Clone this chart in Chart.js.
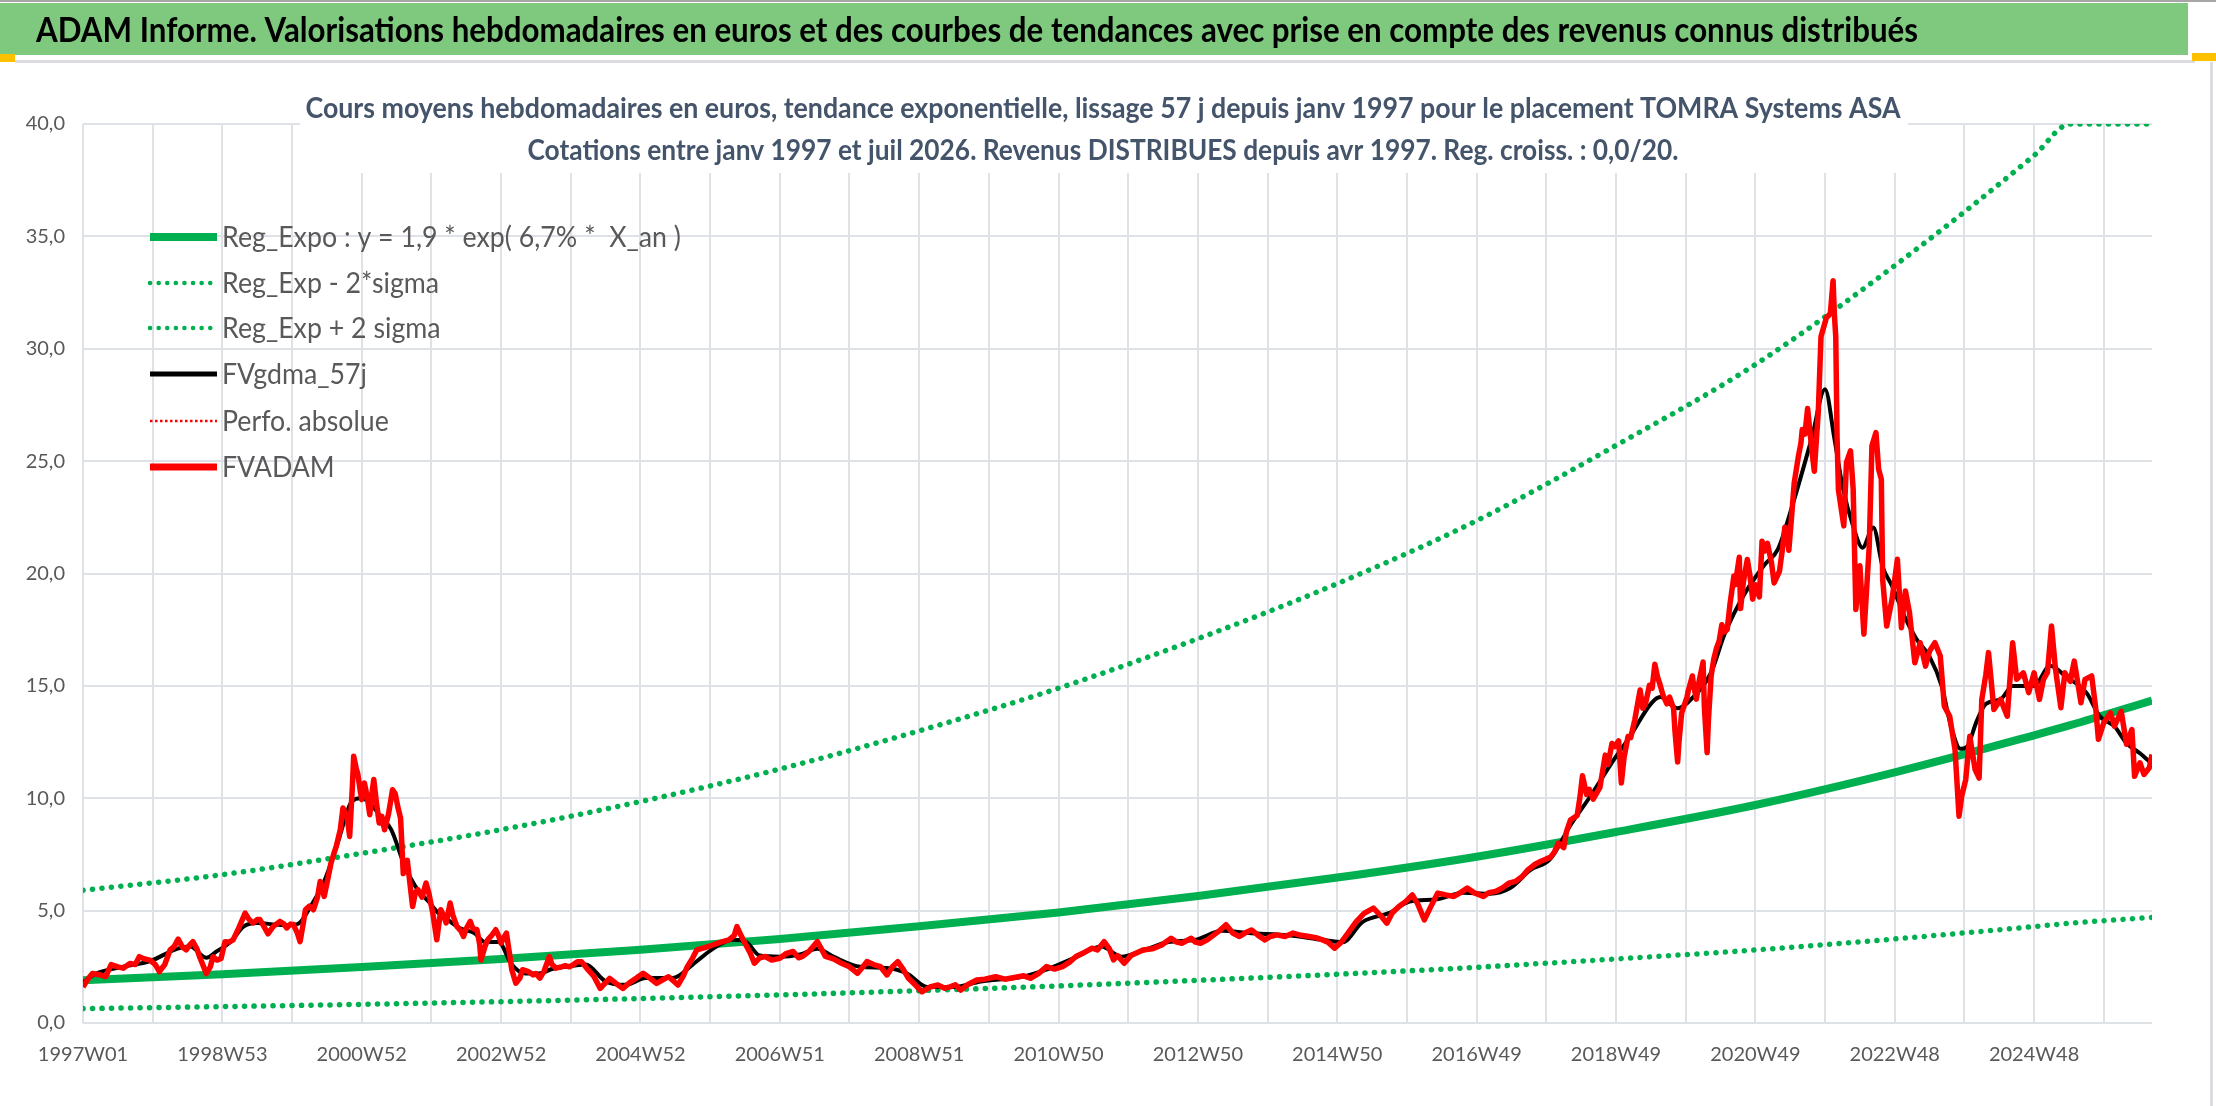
<!DOCTYPE html>
<html>
<head>
<meta charset="utf-8">
<script src="https://cdn.jsdelivr.net/npm/chart.js@4.4.1/dist/chart.umd.min.js"></script>
<style>
  html, body { margin: 0; padding: 0; background: #fff; }
  canvas { display: block; }
</style>
</head>
<body>
<canvas id="myChart" width="2216" height="1106"></canvas>
<script>
// Données (semaines depuis 1997W01)

const tickLabels = ['1997W01', '1998W53', '2000W52', '2002W52', '2004W52', '2006W51', '2008W51',
  '2010W50', '2012W50', '2014W50', '2016W49', '2018W49', '2020W49', '2022W48', '2024W48'];

const bandWeeks = [0, 104, 208, 312, 416, 520, 624, 728, 832, 936, 1040, 1144, 1248, 1352, 1456, 1483, 1544];
const trendValues = [1.9, 2.17, 2.49, 2.85, 3.26, 3.74, 4.3, 4.92, 5.65, 6.47, 7.4, 8.5, 9.7, 11.15, 12.8, 13.25, 14.35];
const lowerValues = [0.64, 0.73, 0.83, 0.95, 1.09, 1.25, 1.44, 1.65, 1.9, 2.17, 2.48, 2.85, 3.25, 3.74, 4.29, 4.44, 4.7];
const upperValues = [5.9, 6.6, 7.55, 8.6, 9.85, 11.3, 13.0, 14.9, 17.1, 19.55, 22.35, 25.7, 29.3, 33.7, 38.6, 40, 40];

const gdmaWeeks = [0, 10, 30, 50, 70, 80, 92, 100, 110, 120, 130, 150, 160, 170, 180, 190, 200, 207, 212, 222,
  230, 240, 250, 258, 265, 272, 282, 292, 300, 310, 320, 330, 340, 350, 360, 375, 390, 405, 420, 440,
  455, 470, 485, 495, 505, 520, 535, 548, 560, 580, 600, 615, 630, 650, 670, 700, 720, 740, 760, 775,
  790, 810, 830, 850, 870, 900, 925, 940, 955, 975, 990, 1010, 1030, 1050, 1065, 1080, 1095, 1110, 1125, 1140,
  1155, 1170, 1177, 1190, 1200, 1215, 1225, 1240, 1255, 1265, 1275, 1290, 1300, 1307, 1313, 1321, 1328, 1336, 1343, 1350,
  1360, 1368, 1378, 1387, 1394, 1401, 1406, 1413, 1420, 1431, 1440, 1456, 1468, 1480, 1495, 1505, 1516, 1525, 1535, 1542];
const gdmaValues = [1.8, 2.2, 2.5, 2.75, 3.3, 3.4, 2.9, 3.2, 3.6, 4.3, 4.45, 4.35, 4.4, 5.2, 6.3, 8.0, 9.8, 10.0, 9.9, 9.2,
  8.6, 7.0, 5.9, 5.4, 4.9, 4.6, 4.2, 4.0, 3.6, 3.6, 2.6, 2.2, 2.2, 2.4, 2.5, 2.6, 1.85, 1.7, 2.0, 2.0,
  2.6, 3.3, 3.7, 3.6, 3.0, 2.95, 3.05, 3.3, 2.95, 2.5, 2.45, 2.2, 1.6, 1.6, 1.85, 2.05, 2.4, 2.9, 3.4, 2.95,
  3.2, 3.6, 3.7, 4.1, 4.0, 3.9, 3.7, 3.6, 4.5, 4.9, 5.4, 5.5, 5.8, 5.75, 6.0, 6.8, 7.3, 8.8, 10.1, 11.5,
  12.8, 14.2, 14.5, 14.0, 14.4, 15.6, 17.3, 19.1, 20.4, 21.1, 22.9, 26.0, 28.2, 26.0, 23.9, 22.1, 21.15, 22.05, 20.3, 19.45,
  18.0, 17.1, 16.3, 15.0, 13.2, 12.2, 12.3, 13.4, 14.2, 14.4, 15.0, 15.0, 15.9, 15.4, 14.7, 13.65, 13.2, 12.45, 12.0, 11.64];

const adamWeeks = [0, 3, 7, 12, 17, 21, 26, 30, 35, 39, 42, 46, 50, 54, 57, 61, 65, 68, 71, 74,
  77, 80, 82, 85, 87, 90, 92, 95, 97, 100, 103, 106, 109, 112, 116, 121, 124, 127, 130, 132,
  135, 138, 142, 147, 150, 152, 155, 157, 160, 162, 164, 166, 169, 172, 175, 177, 180, 183, 185, 187,
  189, 192, 194, 197, 199, 201, 202, 204, 205, 207, 208, 210, 212, 214, 216, 217, 219, 221, 223, 225,
  228, 231, 233, 235, 237, 239, 240, 242, 244, 246, 248, 250, 253, 256, 258, 261, 264, 267, 269, 271,
  274, 276, 279, 282, 284, 286, 289, 291, 294, 296, 297, 300, 302, 305, 308, 310, 312, 314, 316, 318,
  320, 323, 326, 328, 332, 336, 338, 341, 344, 348, 350, 353, 357, 360, 363, 366, 369, 372, 377, 381,
  386, 390, 393, 398, 403, 408, 413, 418, 423, 428, 432, 437, 440, 444, 448, 451, 455, 458, 464, 470,
  476, 482, 486, 488, 491, 494, 498, 501, 505, 509, 514, 520, 525, 530, 534, 537, 542, 548, 551, 554,
  560, 566, 572, 578, 582, 585, 590, 595, 600, 604, 608, 612, 616, 621, 626, 632, 638, 643, 647, 651,
  655, 660, 667, 673, 681, 688, 698, 702, 707, 713, 719, 725, 731, 736, 741, 746, 753, 757, 762, 766,
  769, 772, 777, 782, 791, 798, 805, 812, 816, 820, 827, 830, 834, 839, 844, 848, 853, 858, 863, 867,
  872, 877, 882, 886, 891, 897, 903, 909, 915, 920, 925, 929, 934, 939, 944, 950, 956, 963, 968, 973,
  977, 982, 987, 992, 996, 1001, 1006, 1011, 1017, 1023, 1028, 1033, 1038, 1045, 1049, 1054, 1059, 1064, 1069, 1074,
  1078, 1083, 1088, 1092, 1095, 1098, 1101, 1105, 1107, 1110, 1115, 1117, 1119, 1122, 1124, 1127, 1132, 1136, 1138, 1141,
  1143, 1146, 1148, 1150, 1153, 1155, 1158, 1162, 1164, 1166, 1169, 1171, 1173, 1175, 1177, 1179, 1182, 1184, 1187, 1188,
  1190, 1191, 1193, 1197, 1198, 1201, 1202, 1204, 1206, 1209, 1210, 1212, 1213, 1215, 1217, 1219, 1221, 1223, 1225, 1227,
  1229, 1232, 1233, 1236, 1237, 1239, 1242, 1244, 1246, 1248, 1251, 1253, 1255, 1257, 1260, 1262, 1266, 1268, 1270, 1272,
  1273, 1275, 1277, 1280, 1282, 1283, 1285, 1287, 1290, 1292, 1295, 1297, 1301, 1303, 1304, 1306, 1307, 1308, 1309, 1310,
  1314, 1316, 1319, 1321, 1323, 1326, 1329, 1333, 1335, 1338, 1340, 1342, 1343, 1346, 1350, 1354, 1357, 1360, 1363, 1367,
  1371, 1375, 1378, 1382, 1386, 1389, 1393, 1397, 1400, 1402, 1405, 1408, 1412, 1415, 1417, 1420, 1422, 1426, 1431, 1436,
  1440, 1443, 1448, 1452, 1456, 1460, 1463, 1466, 1469, 1472, 1476, 1479, 1483, 1486, 1491, 1494, 1499, 1502, 1504, 1508,
  1513, 1516, 1521, 1525, 1529, 1531, 1535, 1538, 1542, 1544];
const adamValues = [1.6, 1.9, 2.2, 2.15, 2.07, 2.6, 2.5, 2.44, 2.65, 2.6, 2.95, 2.85, 2.8, 2.6, 2.29, 2.6, 3.25, 3.4, 3.73, 3.4,
  3.25, 3.5, 3.62, 3.3, 2.95, 2.5, 2.2, 2.5, 2.95, 2.8, 2.87, 3.62, 3.6, 3.7, 4.2, 4.89, 4.6, 4.45, 4.6, 4.6,
  4.3, 3.97, 4.3, 4.52, 4.4, 4.23, 4.4, 4.38, 4.0, 3.62, 4.3, 5.04, 5.2, 5.04, 5.6, 6.3, 5.63, 6.5, 7.1, 7.5,
  7.86, 8.6, 9.57, 9.2, 8.3, 10.5, 11.87, 11.3, 11.1, 10.3, 9.94, 10.68, 10.1, 9.27, 10.4, 10.83, 9.8, 8.9, 9.2, 8.6,
  9.3, 10.38, 10.2, 9.6, 9.11, 6.65, 7.0, 7.24, 6.2, 5.18, 5.8, 5.93, 5.6, 6.23, 5.8, 4.9, 3.7, 5.04, 4.8, 4.45,
  5.34, 4.8, 4.3, 4.1, 3.85, 4.2, 4.52, 4.2, 4.15, 3.5, 2.8, 3.4, 3.7, 3.9, 4.15, 3.9, 3.55, 3.8, 4.0, 3.2,
  2.37, 1.77, 2.0, 2.37, 2.3, 2.14, 2.2, 2.0, 2.3, 2.95, 2.6, 2.44, 2.5, 2.55, 2.5, 2.6, 2.73, 2.73, 2.36, 2.1,
  1.54, 1.8, 1.99, 1.75, 1.54, 1.8, 2.0, 2.21, 2.0, 1.76, 1.9, 2.06, 1.9, 1.69, 2.1, 2.51, 2.9, 3.25, 3.35, 3.47,
  3.6, 3.7, 3.9, 4.29, 3.9, 3.55, 3.1, 2.66, 2.9, 2.96, 2.8, 2.88, 3.1, 3.18, 2.9, 2.96, 3.2, 3.62, 3.3, 2.96,
  2.85, 2.66, 2.5, 2.21, 2.5, 2.73, 2.6, 2.51, 2.14, 2.5, 2.73, 2.4, 1.99, 1.7, 1.39, 1.6, 1.69, 1.55, 1.61, 1.7,
  1.46, 1.7, 1.91, 1.95, 2.06, 1.95, 2.06, 2.1, 1.99, 2.2, 2.51, 2.4, 2.51, 2.7, 2.96, 3.1, 3.33, 3.25, 3.62, 3.3,
  2.81, 3.0, 2.66, 3.0, 3.25, 3.3, 3.47, 3.77, 3.6, 3.55, 3.77, 3.6, 3.55, 3.7, 3.92, 4.1, 4.37, 4.0, 3.85, 4.0,
  4.14, 3.9, 3.7, 3.85, 3.92, 3.85, 4.0, 3.9, 3.85, 3.8, 3.7, 3.6, 3.33, 3.6, 4.0, 4.5, 4.88, 5.11, 4.8, 4.44,
  4.9, 5.18, 5.4, 5.7, 5.3, 4.59, 5.2, 5.78, 5.7, 5.63, 5.8, 6.0, 5.8, 5.63, 5.8, 5.85, 6.0, 6.22, 6.3, 6.52,
  6.8, 7.04, 7.2, 7.3, 7.37, 7.6, 8.0, 7.8, 8.5, 9.03, 9.23, 10.0, 11.0, 10.17, 10.4, 9.96, 10.48, 11.92, 11.5, 12.44,
  12.3, 12.55, 10.68, 11.8, 12.75, 12.7, 13.48, 14.82, 14.0, 14.2, 15.03, 14.9, 15.96, 15.4, 15.03, 14.6, 14.2, 14.5, 13.99, 13.0,
  11.61, 12.5, 13.79, 14.5, 14.8, 15.44, 15.0, 14.41, 15.2, 16.06, 14.0, 12.03, 13.5, 15.44, 16.2, 16.68, 17.0, 17.72, 17.4, 17.51,
  18.6, 19.89, 19.5, 20.72, 18.44, 19.6, 20.62, 19.9, 18.86, 19.5, 18.96, 21.44, 21.0, 21.34, 20.5, 19.58, 20.1, 21.0, 22.06, 21.6,
  21.03, 22.5, 24.03, 25.17, 25.8, 26.41, 26.2, 27.34, 25.58, 24.55, 27.24, 30.55, 31.38, 31.5, 31.59, 33.03, 31.5, 30.55, 26.0, 23.72,
  22.12, 24.94, 25.46, 23.75, 18.4, 20.34, 17.3, 21.23, 25.68, 26.27, 24.64, 24.2, 19.74, 17.66, 18.85, 20.63, 17.59, 19.22, 18.26, 16.03,
  16.92, 15.88, 16.55, 16.92, 16.33, 14.1, 13.65, 12.17, 9.2, 10.09, 10.83, 12.76, 11.28, 10.9, 14.4, 15.5, 16.48, 13.95, 14.4, 13.65,
  16.92, 15.29, 15.58, 14.7, 15.58, 14.4, 15.29, 15.6, 17.66, 15.73, 14.03, 15.58, 15.2, 16.1, 14.25, 15.29, 15.44, 14.0, 12.62, 13.36,
  13.8, 13.21, 13.87, 12.4, 13.06, 10.98, 11.58, 11.06, 11.36, 11.95];

const titreBandeau = 'ADAM Informe. Valorisations hebdomadaires en euros et des courbes de tendances avec prise en compte des revenus connus distribués';
const titre1 = 'Cours moyens hebdomadaires en euros, tendance exponentielle, lissage 57 j depuis janv 1997 pour le placement TOMRA Systems ASA';
const titre2 = 'Cotations entre janv 1997 et juil 2026. Revenus DISTRIBUES depuis avr 1997. Reg. croiss. : 0,0/20.';
const legendeNoms = ['Reg_Expo : y = 1,9 * exp( 6,7% *  X_an )', 'Reg_Exp - 2*sigma', 'Reg_Exp + 2 sigma',
  'FVgdma_57j', 'Perfo. absolue', 'FVADAM'];

// construction des points
function points(weeks, values) {
  return weeks.map((w, i) => ({ x: w, y: values[i] }));
}

const vert = '#00B050';
const police = 'Lato, "Open Sans", sans-serif';

const dotted = {
  borderColor: vert, borderWidth: 5.5, borderDash: [0.1, 9.4], borderCapStyle: 'round',
  pointRadius: 0, cubicInterpolationMode: 'monotone', fill: false
};

const data = {
  datasets: [
    { label: legendeNoms[5], data: points(adamWeeks, adamValues), borderColor: '#FF0000', borderWidth: 5.5,
      borderJoinStyle: 'round', pointRadius: 0, tension: 0, order: 0 },
    { label: legendeNoms[4], data: [], borderColor: '#FF0000', borderWidth: 2, borderDash: [3, 3], pointRadius: 0, order: 1 },
    { label: legendeNoms[3], data: points(gdmaWeeks, gdmaValues), borderColor: '#000000', borderWidth: 4,
      pointRadius: 0, cubicInterpolationMode: 'monotone', order: 2 },
    Object.assign({ label: legendeNoms[2], data: points(bandWeeks, upperValues), order: 3 }, dotted),
    Object.assign({ label: legendeNoms[1], data: points(bandWeeks, lowerValues), order: 4 }, dotted),
    { label: legendeNoms[0], data: points(bandWeeks, trendValues), borderColor: vert, borderWidth: 8,
      pointRadius: 0, cubicInterpolationMode: 'monotone', order: 5 }
  ]
};

// texte "Calibri" : on resserre horizontalement
function texte(ctx, str, x, y, size, weight, color, width, align) {
  ctx.save();
  ctx.font = weight + ' ' + size + 'px ' + police;
  ctx.fillStyle = color;
  ctx.textBaseline = 'alphabetic';
  const w = ctx.measureText(str).width;
  const k = width / w;
  let x0 = x;
  if (align === 'center') x0 = x - width / 2;
  ctx.translate(x0, y);
  ctx.scale(k, 1);
  ctx.textAlign = 'left';
  ctx.fillText(str, 0, 0);
  ctx.restore();
}

const decor = {
  id: 'decor',
  beforeDraw(chart) {
    const ctx = chart.ctx;
    ctx.save();
    ctx.fillStyle = '#fff';
    ctx.fillRect(0, 0, chart.width, chart.height);
    // bandeau vert
    ctx.fillStyle = '#7FC97F';
    ctx.fillRect(0, 3, 2188, 52);
    ctx.fillStyle = '#A6A6A6';
    ctx.fillRect(0, 0, chart.width, 2);
    ctx.fillStyle = '#DADCE0';
    ctx.fillRect(15, 60, 2180, 3);
    ctx.fillStyle = '#FFC000';
    ctx.fillRect(0, 54, 15, 8);
    ctx.fillRect(2192, 53, 24, 8);
    ctx.fillStyle = '#DADCE0';
    ctx.fillRect(2210, 62, 3, chart.height - 62);
    ctx.restore();
    texte(ctx, titreBandeau, 36, 42, 34, 'bold', '#000', 1882, 'left');
  },
  beforeDatasetsDraw(chart) {
    const ctx = chart.ctx;
    ctx.save();
    ctx.fillStyle = '#fff';
    ctx.fillRect(300, 85, 1608, 88);
    ctx.restore();
    texte(ctx, titre1, 1103, 118, 29, 'bold', '#44546A', 1595, 'center');
    texte(ctx, titre2, 1103, 160, 29, 'bold', '#44546A', 1151, 'center');
  },
  afterDatasetsDraw(chart) {
    const ctx = chart.ctx;
    const ys = [237, 283, 328, 374, 421, 467];
    const styles = [
      { c: vert, w: 8, dash: [] },
      { c: vert, w: 4.5, dash: [0.1, 8.5], cap: 'round' },
      { c: vert, w: 4.5, dash: [0.1, 8.5], cap: 'round' },
      { c: '#000', w: 5, dash: [] },
      { c: '#FF0000', w: 2.5, dash: [2.5, 2.5] },
      { c: '#FF0000', w: 7, dash: [] }
    ];
    ctx.save();
    ctx.font = '29px ' + police;
    const k = 459 / ctx.measureText(legendeNoms[0]).width;
    ys.forEach((y, i) => {
      const s = styles[i];
      ctx.beginPath();
      ctx.strokeStyle = s.c;
      ctx.lineWidth = s.w;
      ctx.setLineDash(s.dash);
      ctx.lineCap = s.cap || 'butt';
      ctx.moveTo(150, y);
      ctx.lineTo(217, y);
      ctx.stroke();
      const w = ctx.measureText(legendeNoms[i]).width * k;
      texte(ctx, legendeNoms[i], 222, y + 10, 29, 'normal', '#595959', w, 'left');
    });
    ctx.restore();
  }
};

const gridWeeks = [];
for (let w = 0; w <= 1508; w += 52) gridWeeks.push(w);

const config = {
  type: 'line',
  data: data,
  options: {
    responsive: false,
    devicePixelRatio: 1,
    animation: false,
    layout: { padding: { top: 124, right: 64, bottom: 0, left: 0 } },
    plugins: { legend: { display: false }, title: { display: false }, tooltip: { enabled: false } },
    scales: {
      x: {
        type: 'linear', min: 0, max: 1544,
        afterBuildTicks(scale) { scale.ticks = gridWeeks.map(v => ({ value: v })); },
        afterFit(scale) { scale.height = 83; },
        grid: { color: '#DEE1E6', lineWidth: 2, drawTicks: false },
        border: { display: false },
        ticks: {
          autoSkip: false, maxRotation: 0, minRotation: 0, padding: 20,
          color: '#595959', font: { family: police, size: 20 },
          callback: (v) => (v % 104 === 0 ? tickLabels[v / 104] : '')
        }
      },
      y: {
        min: 0, max: 40,
        afterFit(scale) { scale.width = 83; },
        grid: { color: '#DEE1E6', lineWidth: 2, drawTicks: false },
        border: { display: false },
        ticks: {
          stepSize: 5, padding: 18, color: '#595959', font: { family: police, size: 20 },
          callback: (v) => v.toFixed(1).replace('.', ',')
        }
      }
    }
  },
  plugins: [decor]
};

var myChart = new Chart(document.getElementById('myChart'), config);
</script>
</body>
</html>
